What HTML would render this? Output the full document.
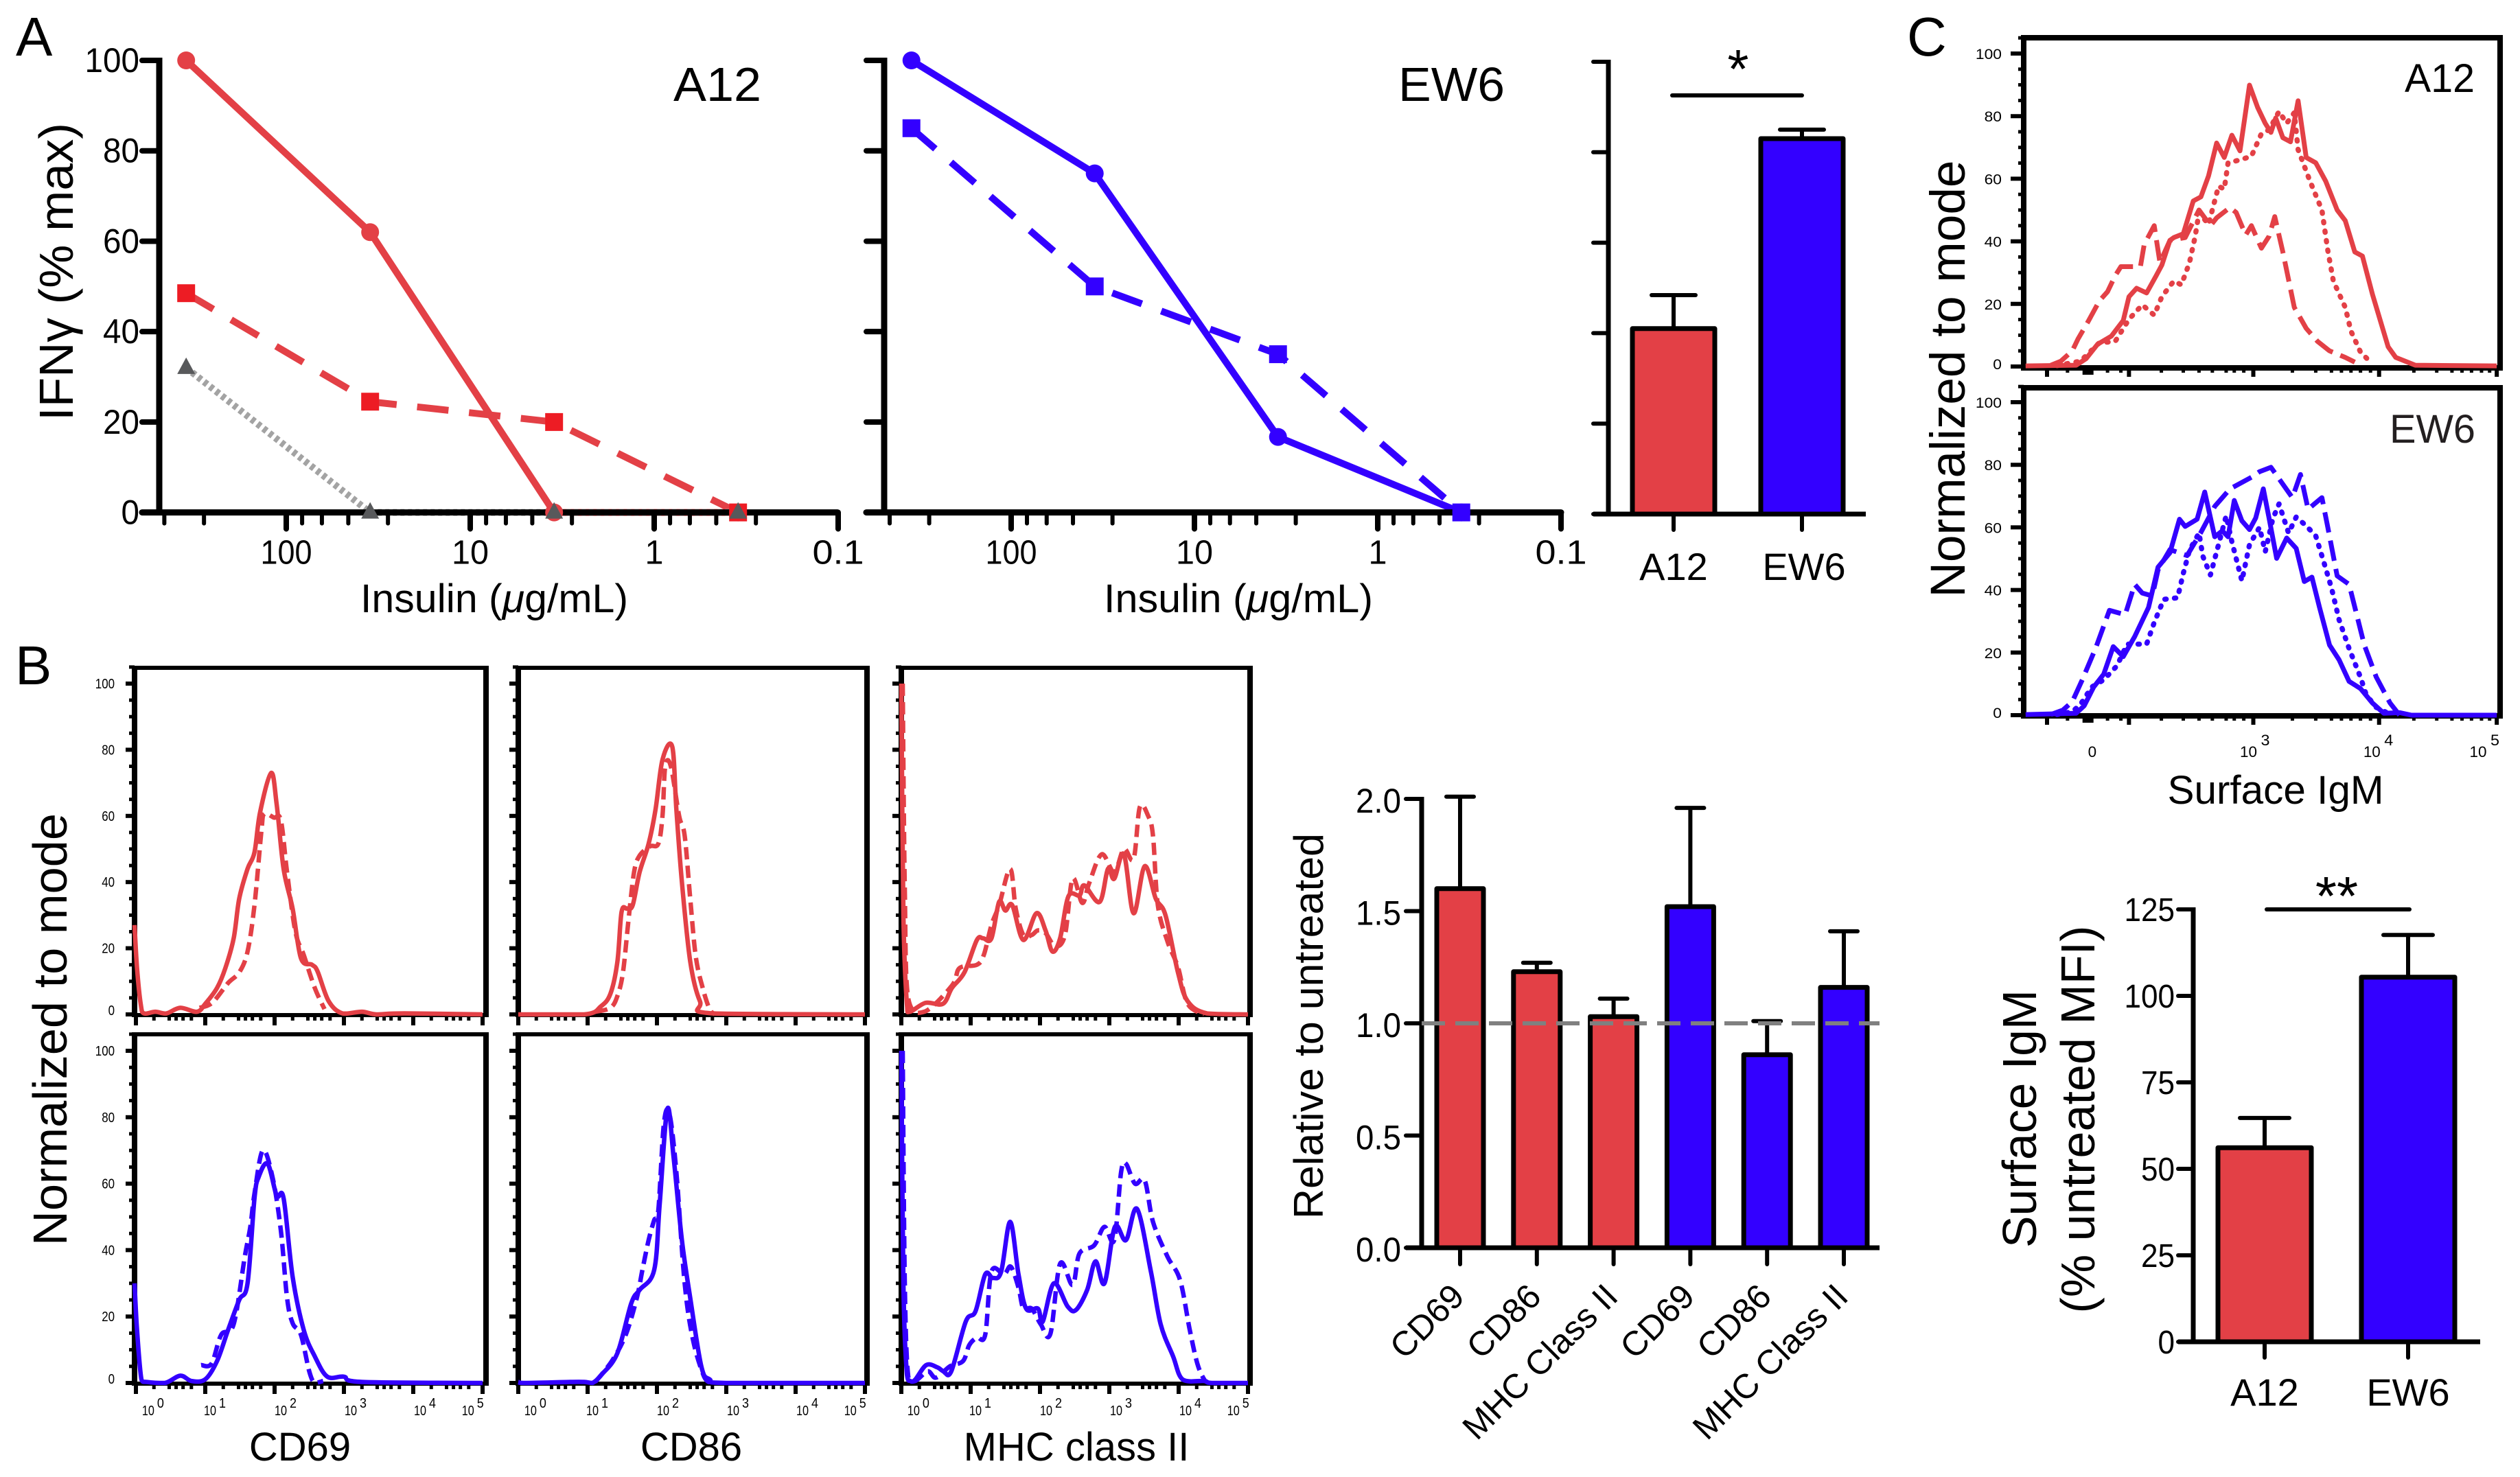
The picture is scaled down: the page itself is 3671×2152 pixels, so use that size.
<!DOCTYPE html>
<html lang="en">
<head>
<meta charset="utf-8">
<title>Insulin response figure</title>
<style>
html,body{margin:0;padding:0;background:#fff;}
svg{display:block;}
text{font-family:"Liberation Sans",sans-serif;fill:#000;}
</style>
</head>
<body>
<svg id="figure" width="3671" height="2152" viewBox="0 0 3671 2152">
  <rect x="0" y="0" width="3671" height="2152" fill="#fff"/>

  <text x="23" y="81" font-size="80">A</text>
  <text x="22" y="997" font-size="80">B</text>
  <text x="2778" y="81" font-size="80">C</text>

  <g id="dose-a12"></g>
  <g id="dose-ew6"></g>
  <g id="bar-ifn"></g>
  <g id="hist-b"></g>
  <g id="bar-rel"></g>
  <g id="hist-c"></g>
  <g id="bar-igm"></g>

  <text transform="translate(106,396) rotate(-90)" text-anchor="middle" font-size="70" textLength="434" lengthAdjust="spacingAndGlyphs">IFNγ (% max)</text>
  <text x="981" y="147" font-size="70" textLength="128" lengthAdjust="spacingAndGlyphs">A12</text>
  <text x="2037" y="147" font-size="70" textLength="155" lengthAdjust="spacingAndGlyphs">EW6</text>
  <text x="720" y="892" text-anchor="middle" font-size="58" textLength="390" lengthAdjust="spacingAndGlyphs">Insulin (<tspan font-style="italic">μ</tspan>g/mL)</text>
  <text x="1804" y="892" text-anchor="middle" font-size="58" textLength="392" lengthAdjust="spacingAndGlyphs">Insulin (<tspan font-style="italic">μ</tspan>g/mL)</text>
  <line x1="2436" y1="139" x2="2625" y2="139" stroke="#000" stroke-width="6" stroke-linecap="round"/>
  <text x="2532" y="128" text-anchor="middle" font-size="80">*</text>

  <text transform="translate(97,1500) rotate(-90)" text-anchor="middle" font-size="70" textLength="630" lengthAdjust="spacingAndGlyphs">Normalized to mode</text>
  <text x="437" y="2128" text-anchor="middle" font-size="58">CD69</text>
  <text x="1007" y="2128" text-anchor="middle" font-size="58">CD86</text>
  <text x="1568" y="2128" text-anchor="middle" font-size="58">MHC class II</text>
  <text transform="translate(1927,1495) rotate(-90)" text-anchor="middle" font-size="60" textLength="562" lengthAdjust="spacingAndGlyphs">Relative to untreated</text>

  <text transform="translate(2862,552) rotate(-90)" text-anchor="middle" font-size="71" textLength="637" lengthAdjust="spacingAndGlyphs">Normalized to mode</text>
  <text x="3503" y="134" font-size="58" textLength="102" lengthAdjust="spacingAndGlyphs">A12</text>
  <text x="3481" y="645" font-size="58" textLength="125" lengthAdjust="spacingAndGlyphs" style="fill:#231F20">EW6</text>
  <text x="3315" y="1171" text-anchor="middle" font-size="58" textLength="315" lengthAdjust="spacingAndGlyphs">Surface IgM</text>

  <text transform="translate(2966,1630) rotate(-90)" text-anchor="middle" font-size="70" textLength="376" lengthAdjust="spacingAndGlyphs">Surface IgM</text>
  <text transform="translate(3051,1631) rotate(-90)" text-anchor="middle" font-size="70" textLength="565" lengthAdjust="spacingAndGlyphs">(% untreated MFI)</text>
  <line x1="3302" y1="1325" x2="3510" y2="1325" stroke="#000" stroke-width="6" stroke-linecap="round"/>
  <text x="3404" y="1333" text-anchor="middle" font-size="80">**</text>
</svg>

<script>
// ---------- Panel A dose-response data ----------
const doses = [350, 35, 3.5, 0.35];
const a12Solid = [100, 62, 0, 0];
const a12Dashed = [48.5, 24.5, 20, 0];
const a12Control = [32, 0, 0, 0];
const ew6Solid = [100, 75, 16.7, 0];
const ew6Dashed = [85, 50, 35, 0];
const doseYTicks = [0, 20, 40, 60, 80, 100];
const doseXTicks = [100, 10, 1, 0.1];
const doseXTickLabels = ['100', '10', '1', '0.1'];
const doseMinorTicks = [460, 280, 82, 64, 46, 28, 8.2, 6.4, 4.6, 2.8, 0.82, 0.64, 0.46, 0.28];

// ---------- Panel A bar data ----------
const ifnCategories = ['A12', 'EW6'];
const ifnValues = [41, 83];
const ifnErrors = [48.4, 85];
const ifnYTicks = [0, 20, 40, 60, 80, 100];

// ---------- Panel B bar data ----------
const relCategories = ['CD69', 'CD86', 'MHC Class II', 'CD69', 'CD86', 'MHC Class II'];
const relValues = [1.6, 1.23, 1.03, 1.52, 0.86, 1.16];
const relErrors = [2.01, 1.27, 1.11, 1.96, 1.01, 1.41];
const relYTicks = [0, 0.5, 1, 1.5, 2];
const relYTickLabels = ['0.0', '0.5', '1.0', '1.5', '2.0'];
const relReference = 1;

// ---------- Panel C bar data ----------
const igmCategories = ['A12', 'EW6'];
const igmValues = [56.1, 105.4];
const igmErrors = [64.7, 117.6];
const igmYTicks = [0, 25, 50, 75, 100, 125];

// ---------- Panel B histograms: [log10 fluorescence, % of mode] ----------
const cd69A12Solid = [[-0.02,27],[0.016,14],[0.07,3],[0.117,0.3],[0.28,0.8],[0.44,0.3],[0.64,2],[0.88,0.8],[1,3.2],[1.17,8],[1.29,14],[1.41,23],[1.49,35],[1.61,44],[1.71,49],[1.79,61],[1.95,73],[2.03,63.5],[2.13,44],[2.26,32],[2.38,17],[2.54,15],[2.62,13],[2.78,4],[2.98,0.3],[3.26,0.8],[3.47,0],[3.87,0.3],[5,0]];
const cd69A12Dashed = [[0.92,2],[1.1,3.5],[1.33,9.5],[1.49,12.7],[1.61,19],[1.71,33],[1.81,55.5],[1.85,60.6],[1.99,59.5],[2.09,58.7],[2.18,43],[2.3,25],[2.42,18],[2.58,8],[2.72,1.6]];
const cd69Ew6Solid = [[-0.02,30],[0.016,16],[0.08,1],[0.16,0.3],[0.42,0],[0.64,2.2],[0.8,0.6],[1,1.1],[1.17,6.6],[1.33,16],[1.49,25],[1.61,30],[1.71,55.6],[1.77,62],[1.9,66],[2.03,56.4],[2.13,55.6],[2.26,32],[2.42,16],[2.58,8],[2.76,1.9],[3,1.9],[3.26,0.3],[5,0]];
const cd69Ew6Dashed = [[0.94,5.4],[1.09,5.8],[1.23,14.5],[1.41,17.7],[1.57,38],[1.65,47],[1.71,57],[1.83,70],[1.97,62],[2.09,46],[2.18,25.6],[2.26,18],[2.38,14.5],[2.5,3.5],[2.58,0],[2.7,0.6]];
const cd86A12Solid = [[0,0],[0.95,0],[1.19,2.4],[1.33,6.3],[1.43,16],[1.49,31],[1.57,32],[1.65,33],[1.75,43],[1.88,51.6],[1.98,62],[2.08,77],[2.22,81],[2.28,62],[2.36,40],[2.48,16],[2.62,4],[2.8,0.3],[5,0]];
const cd86A12Dashed = [[1.11,0.8],[1.33,2],[1.43,5.6],[1.51,12.7],[1.59,28.6],[1.67,43],[1.75,48],[1.9,50.8],[2.02,51.6],[2.08,60],[2.12,75],[2.2,75],[2.32,60],[2.4,54],[2.48,35],[2.56,17.5],[2.66,8],[2.76,1.6],[2.84,0]];
const cd86Ew6Solid = [[0,0.3],[0.1,0],[0.75,0.3],[0.95,0.3],[1.07,0],[1.21,2.7],[1.43,9],[1.63,24],[1.75,28],[1.96,34],[2.04,54],[2.15,82.5],[2.24,68],[2.36,43],[2.48,25.6],[2.64,5],[2.76,1.1],[3,0],[5,0]];
const cd86Ew6Dashed = [[1.11,0.3],[1.35,6.6],[1.55,14.5],[1.71,25.6],[1.79,34],[1.88,43],[1.96,49],[2.02,52],[2.1,78],[2.18,81],[2.28,63.5],[2.4,30],[2.52,13],[2.68,1.9],[2.78,0]];
const mhcA12Solid = [[0,100],[0.03,30],[0.08,3.2],[0.12,0.8],[0.35,3.5],[0.6,3.2],[0.73,8],[0.91,12.7],[1.09,22.5],[1.18,23],[1.3,23],[1.41,34],[1.5,31.4],[1.6,33],[1.76,22.5],[1.95,30.6],[2.08,25.4],[2.18,19],[2.29,23],[2.41,35.7],[2.57,36],[2.64,39],[2.86,34],[2.98,44],[3.07,41],[3.21,48.4],[3.35,30.6],[3.51,44.8],[3.67,35],[3.81,30],[3.99,12.7],[4.13,4],[4.41,0.3],[5,0]];
const mhcA12Dashed = [[0.02,100],[0.05,38],[0.1,4.8],[0.33,0.8],[0.73,8.7],[0.84,14],[1.09,15],[1.19,18],[1.3,27],[1.41,33],[1.57,44],[1.65,32],[1.76,24],[1.88,24],[1.97,25.4],[2.08,24.6],[2.22,20.6],[2.36,24],[2.47,41],[2.61,33.7],[2.71,39.7],[2.89,48.4],[3.07,43],[3.21,50],[3.35,47],[3.44,62.7],[3.56,60],[3.63,54],[3.7,33],[3.84,22],[3.99,14.3],[4.13,3.2],[4.37,0]];
const mhcEw6Solid = [[0,100],[0.03,30],[0.08,2.7],[0.13,0.6],[0.2,1],[0.36,5.4],[0.52,4.7],[0.61,3.5],[0.72,3.5],[0.93,18.5],[1.07,21.6],[1.21,32.7],[1.32,31.6],[1.44,33.5],[1.57,48.5],[1.69,32.7],[1.8,22.4],[1.97,22.4],[2.04,18.5],[2.2,30],[2.4,23],[2.52,22],[2.68,28],[2.8,36.6],[2.93,30],[3.08,47],[3.24,43],[3.4,52.4],[3.6,33.5],[3.74,17.7],[3.92,8],[4.06,1],[4.37,0.6],[4.48,0],[5,0]];
const mhcEw6Dashed = [[0.02,100],[0.05,30],[0.1,1.9],[0.2,0.6],[0.38,3.5],[0.5,1.6],[0.7,5],[0.89,6.6],[0.98,11.4],[1.09,13.7],[1.21,14.5],[1.3,33.5],[1.48,32.7],[1.58,35],[1.69,28.7],[1.76,22.4],[1.88,22.4],[2.01,17.7],[2.15,14.8],[2.29,35.9],[2.47,29.5],[2.57,39],[2.78,41.4],[2.93,47],[3.07,43],[3.17,63.5],[3.24,66],[3.37,60],[3.51,61],[3.63,48.5],[3.84,38],[4.02,31],[4.16,16],[4.27,5.8],[4.37,1],[4.44,0]];
const histYMajor = [0, 20, 40, 60, 80, 100];
const histYMinor = [5,10,15,25,30,35,45,50,55,65,70,75,85,90,95,105];
const histDecades = [0, 1, 2, 3, 4, 5];
const histDecadeMinor = [0.26, 0.48, 0.58, 0.68, 0.8];
const histBaseLabels = ['10', '10', '10', '10', '10', '10'];
const histSupLabels = ['0', '1', '2', '3', '4', '5'];
const histBaseOffsets = [0.178, 1.07, 2.09, 3.1, 4.1, 4.79];

// ---------- Panel C histograms: [display channel 0-100, % of mode] ----------
const igmA12Solid = [[0.4,0.2],[11,0.4],[13.1,2.5],[15.5,7.1],[18.4,9.7],[20.9,14.7],[22.1,22.3],[23.7,25],[25.8,23.5],[27.8,29],[29,32.4],[30.7,40.3],[31.5,41.2],[33.5,42.4],[35.6,52.9],[37.2,54.2],[38.8,60.9],[40.5,71.4],[42.1,66.8],[43.7,73.9],[45.4,68.9],[47.4,89.9],[49.1,82.8],[50.7,77.7],[51.9,74.8],[52.9,79.4],[54.4,73.1],[56,71.8],[57.6,84.9],[59.3,66.8],[61.3,65.1],[63.4,59.2],[65.8,50],[67.5,46.6],[69.5,36.6],[71.1,35.3],[73.2,23.1],[76.5,6.3],[78.1,2.9],[82.2,0.4],[99.3,0.2]];
const igmA12Dashed = [[5.7,0.4],[7.8,1.7],[10.2,5],[11.4,8.8],[13.5,14.3],[15.9,21],[17.6,23.9],[19.2,29],[20.4,31.9],[24.5,31.9],[25.3,39],[27.4,45],[28.6,33.2],[30.7,40.3],[33.9,41.2],[36.8,50],[39.2,45],[40.5,47.5],[43.3,50.8],[44.6,49.2],[46.6,42],[47.8,45],[49.9,37.8],[51.5,41.6],[52.7,47.9],[54.4,36.6],[56.8,18.9],[59.3,12.2],[61.7,8],[64.2,5],[67.5,2.9],[69.5,1.4]];
const igmA12Dotted = [[7,0.3],[11.9,1.7],[15.9,7.6],[19.2,8],[22.1,15.1],[24.9,19.7],[27.4,16.4],[29,22.3],[31.5,27.3],[33.1,26.1],[34.8,33.2],[36,41.6],[36.8,49.2],[38.8,45.4],[40.9,57.6],[42.1,56.7],[42.9,65.1],[45.4,66],[47.8,67.2],[49.9,74.4],[51.5,75.6],[53.6,81.5],[55.2,77.7],[56.8,81.1],[57.6,69.3],[60.1,59.2],[62.6,50],[63.8,37.4],[65,27.3],[67.5,18.9],[68.7,11.3],[70.7,4.6],[73.2,0.8]];
const igmEw6Solid = [[0.4,0.2],[11,0.6],[12.7,3],[14.7,9],[16.8,13.1],[18.8,21.9],[20.9,18.7],[23.3,25.1],[26.2,34.4],[28.2,47.3],[30.7,51.9],[32.7,62.6],[33.9,60.3],[36.4,62.6],[38,71.3],[40.1,57],[41.7,58.9],[42.9,57],[44.2,68.6],[45.8,62.1],[47.4,59.3],[48.7,63],[50.3,72.3],[51.5,63],[53.1,50.1],[55.2,56.6],[57.2,53.3],[58.9,42.7],[60.5,44.1],[62.1,34.4],[64.2,22.4],[66.2,17.7],[68.3,10.8],[70.7,8.5],[73.2,3.9],[75.6,0.6],[78.9,0.8],[81.4,0],[99.3,0]];
const igmEw6Dashed = [[5.7,0.2],[8.2,1.6],[10.2,4.3],[12.3,11.3],[15.1,21.4],[18,33.5],[21.3,32.1],[23.3,41.8],[24.9,39],[27,38.1],[28.2,46.4],[30.7,52.9],[34.3,51],[37.2,58.4],[40.1,66.7],[43.3,72.3],[47.8,76],[49.5,77.8],[51.9,79.2],[56.4,69.5],[58.1,76.9],[59.7,65.8],[62.6,69.5],[63.8,60.3],[65.8,44.5],[68.3,41.8],[71.5,22.4],[74,12.2],[76.9,3.9],[78.9,0]];
const igmEw6Dotted = [[7,0.2],[10.2,1.1],[11.9,3.4],[14.3,9],[16.8,11.3],[19.6,15.8],[21.7,22.7],[25.8,22.7],[27.4,29.6],[29.4,37],[32.3,37.5],[33.5,45.3],[34.8,52.7],[36.8,58.2],[37.6,50.8],[39.2,44.8],[40.9,54.5],[42.5,63.7],[43.7,55.4],[45.8,42.9],[47.4,54.5],[49.5,60],[50.7,52.2],[52.3,62.8],[53.6,67.5],[55.6,58.2],[57.2,63.3],[59.3,60.5],[61.3,57.3],[63,48.9],[64.6,40.7],[66.2,30.5],[68.3,21.3],[70.7,12.1],[71.9,6.5],[74,2.5],[76.5,0.6]];
const igmMajorTicks = [4.9, 22.1, 48.2, 74.6, 99.3];
const igmMinorTicks = [9.2,17.6,20.4,28.9,33.5,36.8,39.6,42.5,44.2,46.2,56.4,61.3,64.6,66.7,68.7,70.7,72.8,81.9,86.7,89.9,92,94,96.1,97.8];
const igmThickTick = [13.5];
const igmTickLabelPos = [14.4, 47.2, 73.1, 95.4];
const igmTickBase = ['0', '10', '10', '10'];
const igmTickSup = ['', '3', '4', '5'];

const RED = '#E34046', SQUARE_RED = '#ED1C24', BLUE = '#3300FF', DARK_GRAY = '#58595B', DOT_GRAY = '#A3A3A3';
const svgRoot = document.getElementById('figure');

function mk(parent, tag, attrs, content) {
  const node = document.createElementNS(svgRoot.namespaceURI, tag);
  for (const k in attrs) node.setAttribute(k, attrs[k]);
  if (content !== undefined) node.textContent = content;
  parent.appendChild(node);
  return node;
}
function linear(d0, d1, r0, r1) { return v => r0 + (v - d0) * (r1 - r0) / (d1 - d0); }
function logReversed(x100, decade) { return v => x100 + decade * (2 - Math.log10(v)); }

// ---------- Dose-response panels ----------
function drawDoseAxes(g, xs, ys, axisX, leftX, rightX, withYLabels) {
  const yAxisLine = mk(g, 'line', {x1: axisX, y1: ys(100) - 4, x2: axisX, y2: ys(0), stroke: '#000', 'stroke-width': 9});
  
  
  const xAxisLine = mk(g, 'line', {x1: leftX, y1: ys(0), x2: rightX, y2: ys(0), stroke: '#000', 'stroke-width': 9, 'stroke-linecap': 'round'});
  
  
  doseYTicks.forEach(t => {
    const tick = mk(g, 'line', {x1: leftX, y1: ys(t), x2: axisX, y2: ys(t), stroke: '#000', 'stroke-width': 8, 'stroke-linecap': 'round'});
    
    
    if (withYLabels) {
      const lab = mk(g, 'text', {x: 203, y: ys(t) + 17, 'text-anchor': 'end', 'font-size': 50, textLength: String(t).length * 26.5, lengthAdjust: 'spacingAndGlyphs'}, String(t));
      
      
    }
  });
  doseXTicks.forEach((t, i) => {
    const tick = mk(g, 'line', {x1: xs(t), y1: ys(0), x2: xs(t), y2: ys(0) + 24, stroke: '#000', 'stroke-width': 8, 'stroke-linecap': 'round'});
    
    
    const lab = mk(g, 'text', {x: xs(t), y: ys(0) + 75, 'text-anchor': 'middle', 'font-size': 49, textLength: doseXTickLabels[i].length === 3 ? 75 : doseXTickLabels[i].length * 27, lengthAdjust: 'spacingAndGlyphs'}, doseXTickLabels[i]);
    
    
  });
  doseMinorTicks.forEach(t => {
    const tick = mk(g, 'line', {x1: xs(t), y1: ys(0), x2: xs(t), y2: ys(0) + 16, stroke: '#000', 'stroke-width': 6, 'stroke-linecap': 'round'});
    
    
  });
}
function drawDoseLine(g, values, xs, ys, color, dash, name) {
  const pts = doses.map((d, i) => xs(d) + ',' + ys(values[i])).join(' ');
  const line = mk(g, 'polyline', {points: pts, fill: 'none', stroke: color, 'stroke-width': 10, 'stroke-dasharray': dash, 'stroke-linejoin': 'round'});
  
  
}
function drawDoseMarkers(g, values, xs, ys, color, kind, name) {
  doses.forEach((d, i) => {
    const x = xs(d), y = ys(values[i]);
    let m;
    if (kind === 'circle') m = mk(g, 'circle', {cx: x, cy: y, r: 13, fill: color});
    else if (kind === 'square') m = mk(g, 'rect', {x: x - 13, y: y - 13, width: 26, height: 26, fill: color});
    else m = mk(g, 'polygon', {points: (x - 13) + ',' + (y + 9) + ' ' + (x + 13) + ',' + (y + 9) + ' ' + x + ',' + (y - 15), fill: color});
    
    
  });
}

(function () {
  const g = document.getElementById('dose-a12');
  const xs = logReversed(417, 268), ys = linear(0, 100, 746.6, 88);
  drawDoseLine(g, a12Solid, xs, ys, RED, 'none', 'a12-solid-line');
  drawDoseLine(g, a12Dashed, xs, ys, RED, '46 30', 'a12-dashed-line');
  drawDoseLine(g, a12Control, xs, ys, DOT_GRAY, '6 5', 'a12-control-line');
  drawDoseAxes(g, xs, ys, 232, 207, 1220, true);
  drawDoseMarkers(g, a12Solid, xs, ys, RED, 'circle', 'a12-solid-point');
  drawDoseMarkers(g, a12Dashed, xs, ys, SQUARE_RED, 'square', 'a12-dashed-point');
  drawDoseMarkers(g, a12Control, xs, ys, DARK_GRAY, 'triangle', 'a12-control-point');
})();
(function () {
  const g = document.getElementById('dose-ew6');
  const xs = logReversed(1473, 267), ys = linear(0, 100, 746.6, 88);
  drawDoseLine(g, ew6Solid, xs, ys, BLUE, 'none', 'ew6-solid-line');
  drawDoseLine(g, ew6Dashed, xs, ys, BLUE, '46 30', 'ew6-dashed-line');
  drawDoseAxes(g, xs, ys, 1288, 1262, 2274, false);
  drawDoseMarkers(g, ew6Solid, xs, ys, BLUE, 'circle', 'ew6-solid-point');
  drawDoseMarkers(g, ew6Dashed, xs, ys, BLUE, 'square', 'ew6-dashed-point');
})();

// ---------- Bar charts ----------
function drawBars(g, o) {
  const ys = o.y;
  const axisY = mk(g, 'line', {x1: o.axisX, y1: ys(o.yTicks[o.yTicks.length - 1]) - 3, x2: o.axisX, y2: ys(0), stroke: '#000', 'stroke-width': 7});
  
  
  o.yTicks.forEach((t, i) => {
    const tick = mk(g, 'line', {x1: o.tickLeft, y1: ys(t), x2: o.axisX, y2: ys(t), stroke: '#000', 'stroke-width': 6, 'stroke-linecap': 'round'});
    
    
    if (o.yLabels) {
      const lab = mk(g, 'text', {x: o.labelRight, y: ys(t) + o.labelDy, 'text-anchor': 'end', 'font-size': o.labelSize, textLength: o.yLabels[i].length * o.charWidth, lengthAdjust: 'spacingAndGlyphs'}, o.yLabels[i]);
      
      
    }
  });
  o.values.forEach((v, i) => {
    const cx = o.centerOf(i);
    const stem = mk(g, 'line', {x1: cx, y1: ys(o.errors[i]), x2: cx, y2: ys(v), stroke: '#000', 'stroke-width': 6});
    
    
    const cap = mk(g, 'line', {x1: cx - o.capHalf, y1: ys(o.errors[i]), x2: cx + o.capHalf, y2: ys(o.errors[i]), stroke: '#000', 'stroke-width': 6, 'stroke-linecap': 'round'});
    
    
    const bar = mk(g, 'rect', {x: cx - o.barHalf, y: ys(v), width: o.barHalf * 2, height: ys(0) - ys(v), fill: o.colors[i], stroke: '#000', 'stroke-width': 7, 'stroke-linejoin': 'round'});
    
    
    const tick = mk(g, 'line', {x1: cx, y1: ys(0), x2: cx, y2: o.tickBottom, stroke: '#000', 'stroke-width': 6, 'stroke-linecap': 'round'});
    
    
    let lab;
    if (o.rotated) {
      const bx = cx + 9, by = 1892;
      lab = mk(g, 'text', {transform: 'translate(' + bx + ',' + by + ') rotate(-45)', 'text-anchor': 'end', 'font-size': 50}, o.categories[i]);
    } else {
      lab = mk(g, 'text', {x: cx + (o.labelShift ? o.labelShift[i] : 0), y: o.catBaseline, 'text-anchor': 'middle', 'font-size': 56}, o.categories[i]);
    }
    
    
  });
  const axisX = mk(g, 'line', {x1: o.tickLeft, y1: ys(0), x2: o.axisEnd, y2: ys(0), stroke: '#000', 'stroke-width': 7});
  
  
}

drawBars(document.getElementById('bar-ifn'), {
  y: linear(0, 100, 749, 90), axisX: 2343, tickLeft: 2321, axisEnd: 2718,
  yTicks: ifnYTicks, values: ifnValues, errors: ifnErrors, categories: ifnCategories,
  colors: [RED, BLUE], centerOf: i => 2438 + i * 187, barHalf: 60, capHalf: 32, tickBottom: 772, catBaseline: 845, labelShift: [0, 3]
});
drawBars(document.getElementById('bar-rel'), {
  y: linear(0, 2, 1818, 1164), axisX: 2071, tickLeft: 2048, axisEnd: 2738,
  yTicks: relYTicks, yLabels: relYTickLabels, labelRight: 2041, labelDy: 20, labelSize: 50, charWidth: 22,
  values: relValues, errors: relErrors, categories: relCategories,
  colors: [RED, RED, RED, BLUE, BLUE, BLUE], centerOf: i => 2127 + i * 111.8, barHalf: 34, capHalf: 20, tickBottom: 1842, rotated: true
});
(function () {
  const ys = linear(0, 2, 1818, 1164);
  const ref = mk(document.getElementById('bar-rel'), 'line', {x1: 2071, y1: ys(relReference), x2: 2738, y2: ys(relReference), stroke: '#808080', 'stroke-width': 6, 'stroke-dasharray': '34 15'});
  
  
})();
drawBars(document.getElementById('bar-igm'), {
  y: linear(0, 125, 1955, 1325), axisX: 3195, tickLeft: 3173, axisEnd: 3613,
  yTicks: igmYTicks, yLabels: igmYTicks.map(String), labelRight: 3168, labelDy: 17, labelSize: 48, charWidth: 24.5,
  values: igmValues, errors: igmErrors, categories: igmCategories,
  colors: [RED, BLUE], centerOf: i => 3299 + i * 209, barHalf: 68, capHalf: 36, tickBottom: 1978, catBaseline: 2048
});

// ---------- Curves ----------
function curvePath(pts, floorY, smooth) {
  let d = 'M' + pts[0][0] + ' ' + pts[0][1];
  for (let i = 0; i < pts.length - 1; i++) {
    const p0 = pts[Math.max(i - 1, 0)], p1 = pts[i], p2 = pts[i + 1], p3 = pts[Math.min(i + 2, pts.length - 1)];
    if (smooth) {
      const c1x = p1[0] + (p2[0] - p0[0]) / 6;
      const c1y = Math.min(floorY, p1[1] + (p2[1] - p0[1]) / 6);
      const c2x = p2[0] - (p3[0] - p1[0]) / 6;
      const c2y = Math.min(floorY, p2[1] - (p3[1] - p1[1]) / 6);
      d += ' C' + c1x + ' ' + c1y + ' ' + c2x + ' ' + c2y + ' ' + p2[0] + ' ' + p2[1];
    } else {
      d += ' L' + p2[0] + ' ' + p2[1];
    }
  }
  return d;
}
function drawCurve(g, data, xs, ys, color, width, dash, name, cap, smooth) {
  const pts = data.map(p => [xs(p[0]), ys(p[1])]);
  const c = mk(g, 'path', {d: curvePath(pts, ys(0), smooth), fill: 'none', stroke: color, 'stroke-width': width, 'stroke-dasharray': dash, 'stroke-linejoin': 'round', 'stroke-linecap': cap || 'butt'});
  
  
}

// ---------- Panel B histogram panels ----------
function drawHistPanel(o) {
  const g = mk(document.getElementById('hist-b'), 'g', {});
  
  
  const xs = linear(0, 5, o.x0, o.x0 + 505), ys = linear(0, 100, o.y0, o.y100);
  const frame = mk(g, 'rect', {x: o.left, y: o.top, width: o.right - o.left, height: o.bottom - o.top, fill: 'none', stroke: '#000', 'stroke-width': 6});
  
  
  const leftEdge = mk(g, 'line', {x1: o.left, y1: o.top - 3, x2: o.left, y2: o.bottom + 3, stroke: '#000', 'stroke-width': 8});
  
  
  const rightEdge = mk(g, 'line', {x1: o.right, y1: o.top - 3, x2: o.right, y2: o.bottom + 3, stroke: '#000', 'stroke-width': 8});
  
  
  histYMajor.forEach(t => {
    const tick = mk(g, 'line', {x1: o.left - 13, y1: ys(t), x2: o.left, y2: ys(t), stroke: '#000', 'stroke-width': 6});
    
    
    if (o.yLabels) {
      const lab = mk(g, 'text', {x: 167, y: ys(t) + (t === 0 ? 1 : 7), 'text-anchor': 'end', 'font-size': 20, textLength: String(t).length * 9.4, lengthAdjust: 'spacingAndGlyphs'}, String(t));
      
      
    }
  });
  histYMinor.forEach(t => {
    const tick = mk(g, 'line', {x1: o.left - 8, y1: ys(t), x2: o.left, y2: ys(t), stroke: '#000', 'stroke-width': 5});
    
    
  });
  histDecades.forEach((d, i) => {
    const tick = mk(g, 'line', {x1: xs(d), y1: o.bottom, x2: xs(d), y2: o.bottom + 15, stroke: '#000', 'stroke-width': 6});
    
    
    if (d < 5) histDecadeMinor.forEach(f => {
      const minor = mk(g, 'line', {x1: xs(d + f), y1: o.bottom, x2: xs(d + f), y2: o.bottom + 8, stroke: '#000', 'stroke-width': 5});
      
      
    });
    if (o.xLabels) {
      const bx = o.x0 + 101 * (histBaseOffsets[i] - 0.09);
      const base = mk(g, 'text', {x: bx, y: o.bottom + 46, 'font-size': 20, textLength: 18, lengthAdjust: 'spacingAndGlyphs'}, histBaseLabels[i]);
      
      
      const sup = mk(g, 'text', {x: bx + 22, y: o.bottom + 35, 'font-size': 20, textLength: 10, lengthAdjust: 'spacingAndGlyphs'}, histSupLabels[i]);
      
      
    }
  });
  drawCurve(g, o.solid, xs, ys, o.color, 6.5, 'none', 'untreated-curve', 'butt', true);
  drawCurve(g, o.dashed, xs, ys, o.color, 6.5, '18 9', 'treated-curve', 'butt', true);
}
const topRow = {top: 973, bottom: 1479, y100: 996, y0: 1478};
const botRow = {top: 1507, bottom: 2016, y100: 1531, y0: 2015};
drawHistPanel(Object.assign({name: 'cd69-a12-histogram', left: 196, right: 708, x0: 198, color: RED, solid: cd69A12Solid, dashed: cd69A12Dashed, yLabels: true}, topRow));
drawHistPanel(Object.assign({name: 'cd69-ew6-histogram', left: 196, right: 708, x0: 198, color: BLUE, solid: cd69Ew6Solid, dashed: cd69Ew6Dashed, yLabels: true, xLabels: true}, botRow));
drawHistPanel(Object.assign({name: 'cd86-a12-histogram', left: 755, right: 1263, x0: 755, color: RED, solid: cd86A12Solid, dashed: cd86A12Dashed}, topRow));
drawHistPanel(Object.assign({name: 'cd86-ew6-histogram', left: 755, right: 1263, x0: 755, color: BLUE, solid: cd86Ew6Solid, dashed: cd86Ew6Dashed, xLabels: true}, botRow));
drawHistPanel(Object.assign({name: 'mhc-a12-histogram', left: 1313, right: 1821, x0: 1313, color: RED, solid: mhcA12Solid, dashed: mhcA12Dashed}, topRow));
drawHistPanel(Object.assign({name: 'mhc-ew6-histogram', left: 1313, right: 1821, x0: 1313, color: BLUE, solid: mhcEw6Solid, dashed: mhcEw6Dashed, xLabels: true}, botRow));

// ---------- Panel C histogram panels ----------
function drawIgmPanel(o) {
  const g = mk(document.getElementById('hist-c'), 'g', {});
  
  
  const xs = linear(0, 100, 2948, 3642), ys = linear(0, 100, o.y0, o.y100);
  const frame = mk(g, 'rect', {x: 2948, y: o.top, width: 694, height: o.bottom - o.top, fill: 'none', stroke: '#000', 'stroke-width': 8});
  
  
  histYMajor.forEach(t => {
    const tick = mk(g, 'line', {x1: 2929, y1: ys(t), x2: 2948, y2: ys(t), stroke: '#000', 'stroke-width': 6});
    
    
    const lab = mk(g, 'text', {x: 2916, y: ys(t) + (t === 0 ? 4 : 8), 'text-anchor': 'end', 'font-size': 21, textLength: String(t).length * 12.7, lengthAdjust: 'spacingAndGlyphs'}, String(t));
    
    
  });
  histYMinor.forEach(t => {
    const tick = mk(g, 'line', {x1: 2940, y1: ys(t), x2: 2948, y2: ys(t), stroke: '#000', 'stroke-width': 5});
    
    
  });
  igmMajorTicks.forEach(t => {
    const tick = mk(g, 'line', {x1: xs(t), y1: o.bottom, x2: xs(t), y2: o.bottom + 13, stroke: '#000', 'stroke-width': 6});
    
    
  });
  igmMinorTicks.forEach(t => {
    const tick = mk(g, 'line', {x1: xs(t), y1: o.bottom, x2: xs(t), y2: o.bottom + 7, stroke: '#000', 'stroke-width': 5});
    
    
  });
  igmThickTick.forEach(t => {
    const tick = mk(g, 'line', {x1: xs(t), y1: o.bottom, x2: xs(t), y2: o.bottom + 10, stroke: '#000', 'stroke-width': 16});
    
    
  });
  if (o.xLabels) igmTickLabelPos.forEach((c, i) => {
    const base = mk(g, 'text', {x: xs(c), y: 1103, 'text-anchor': 'middle', 'font-size': 22, textLength: igmTickBase[i].length * 12.5, lengthAdjust: 'spacingAndGlyphs'}, igmTickBase[i]);
    
    
    if (igmTickSup[i]) {
      const sup = mk(g, 'text', {x: xs(c) + 18, y: 1086, 'font-size': 22, textLength: 13, lengthAdjust: 'spacingAndGlyphs'}, igmTickSup[i]);
      
      
    }
  });
  drawCurve(g, o.solid, xs, ys, o.color, 7, 'none', 'solid-curve');
  drawCurve(g, o.dashed, xs, ys, o.color, 7, '30 12', 'dashed-curve');
  drawCurve(g, o.dotted, xs, ys, o.color, 7.5, '2 12', 'dotted-curve', 'round');
}
drawIgmPanel({name: 'igm-a12-histogram', top: 55, bottom: 536, y0: 534, y100: 78, color: RED, solid: igmA12Solid, dashed: igmA12Dashed, dotted: igmA12Dotted});
drawIgmPanel({name: 'igm-ew6-histogram', top: 565, bottom: 1043, y0: 1042, y100: 586, color: BLUE, solid: igmEw6Solid, dashed: igmEw6Dashed, dotted: igmEw6Dotted, xLabels: true});
</script>
</body>
</html>
